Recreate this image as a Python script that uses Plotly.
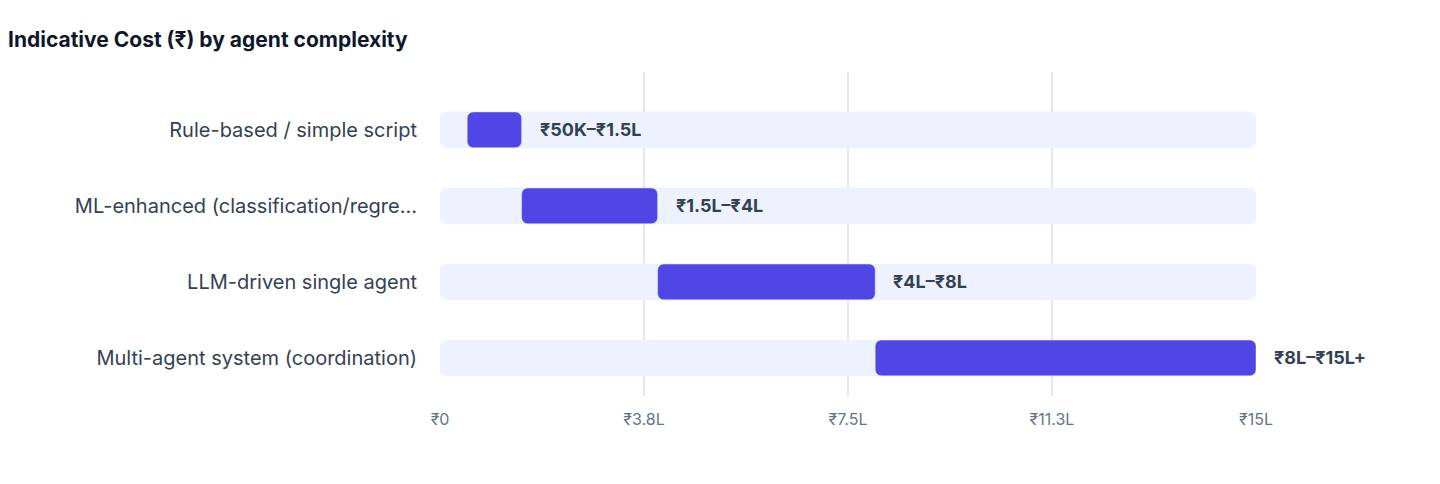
import plotly.graph_objects as go

# agent tiers, cost ranges in lakh rupees
tiers = ["Rule-based / simple script", "ML-enhanced (classification/regre…",
         "LLM-driven single agent", "Multi-agent system (coordination)"]
low = [0.5, 1.5, 4, 8]
high = [1.5, 4, 8, 15]
range_labels = ["₹50K–₹1.5L", "₹1.5L–₹4L", "₹4L–₹8L", "₹8L–₹15L+"]
tick_vals = [0, 3.75, 7.5, 11.25, 15]
tick_text = ["₹0", "₹3.8L", "₹7.5L", "₹11.3L", "₹15L"]
axis_max = 15

fig = go.Figure()
# light background track
fig.add_trace(go.Bar(y=tiers, x=[axis_max] * len(tiers), base=[0] * len(tiers), orientation="h",
                     marker=dict(color="#EEF2FF", cornerradius=7), width=0.47, hoverinfo="skip"))
# cost range bar
fig.add_trace(go.Bar(y=tiers, x=[h - l for l, h in zip(low, high)], base=low, orientation="h",
                     marker=dict(color="#4F46E5", cornerradius=6), width=0.47))

for t, h, lab in zip(tiers, high, range_labels):
    fig.add_annotation(x=h, y=t, text="<b>" + lab + "</b>", showarrow=False, xanchor="left",
                       xshift=16, font=dict(size=18, color="#334155"))

fig.update_layout(
    barmode="overlay", showlegend=False, width=1440, height=484,
    plot_bgcolor="white", paper_bgcolor="white",
    margin=dict(l=432, r=192, t=64, b=96),
    font=dict(family="Inter, Roboto, sans-serif"),
    title=dict(text="<b>Indicative Cost (₹) by agent complexity</b>", x=0, xanchor="left",
               y=0.95, font=dict(size=21, color="#0f172a")),
)
fig.update_xaxes(range=[0, axis_max], tickvals=tick_vals, ticktext=tick_text, showgrid=True,
                 gridcolor="#e2e8f0", gridwidth=1.5, zeroline=False,
                 tickfont=dict(size=16, color="#64748b"), ticks="", ticklabelstandoff=12)
fig.update_yaxes(categoryorder="array", categoryarray=tiers, range=[3.5, -0.76],
                 tickfont=dict(size=20, color="#334155"), ticks="", ticklabelstandoff=22)
fig.write_html("out.html")
